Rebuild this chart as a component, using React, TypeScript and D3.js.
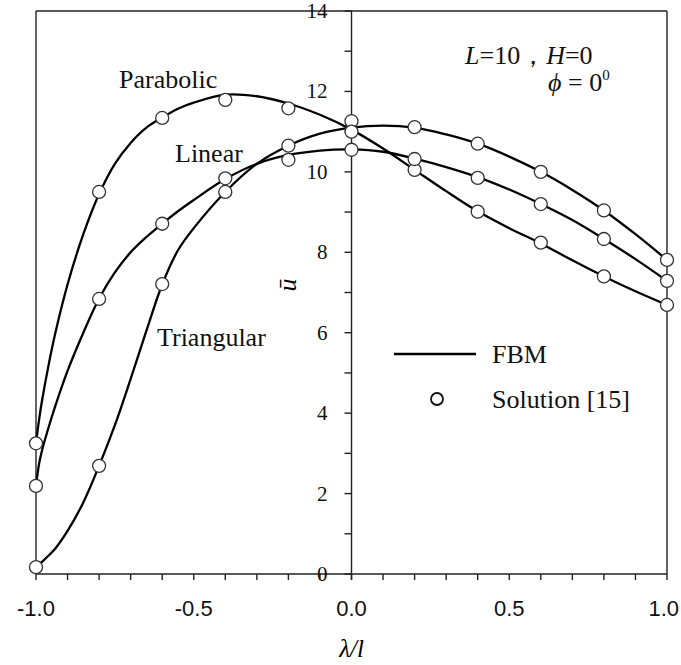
import React from 'react';
import * as d3 from 'd3';

// FBM curves, sampled along lambda/l
const fbmX = [-1, -0.99, -0.98, -0.96, -0.94, -0.9, -0.85, -0.8, -0.75, -0.7, -0.65, -0.6, -0.55, -0.5, -0.4, -0.3, -0.2, -0.1, 0, 0.1, 0.2, 0.3, 0.4, 0.5, 0.6, 0.7, 0.8, 0.9, 1.0];
const parabolicFbm = [3.25, 3.85, 4.35, 5.2, 5.95, 7.2, 8.45, 9.45, 10.2, 10.72, 11.1, 11.35, 11.57, 11.72, 11.92, 11.88, 11.7, 11.42, 11.05, 10.58, 10.05, 9.52, 9.02, 8.6, 8.22, 7.8, 7.4, 7.03, 6.69];
const linearFbm = [2.19, 2.75, 3.1, 3.65, 4.15, 5.05, 6.0, 6.85, 7.5, 8.0, 8.38, 8.71, 9.02, 9.3, 9.82, 10.2, 10.42, 10.53, 10.56, 10.5, 10.33, 10.12, 9.87, 9.56, 9.2, 8.8, 8.33, 7.83, 7.29];
const triangularFbm = [0.17, 0.24, 0.31, 0.46, 0.62, 1.07, 1.78, 2.69, 3.7, 4.85, 6.05, 7.2, 8.05, 8.6, 9.5, 10.2, 10.65, 10.95, 11.1, 11.15, 11.1, 10.93, 10.7, 10.38, 10.0, 9.55, 9.04, 8.45, 7.81];

// Solution [15] points
const solX = [-1, -0.8, -0.6, -0.4, -0.2, 0, 0.2, 0.4, 0.6, 0.8, 1.0];
const parabolicSol = [3.25, 9.5, 11.34, 11.79, 11.58, 11.26, 10.05, 9.01, 8.24, 7.4, 6.69];
const linearSol = [2.19, 6.84, 8.71, 9.84, 10.3, 10.55, 10.32, 9.85, 9.2, 8.33, 7.29];
const triangularSol = [0.17, 2.69, 7.21, 9.5, 10.65, 11.0, 11.11, 10.7, 10.0, 9.04, 7.81];

const xTickLabels = [-1.0, -0.5, 0.0, 0.5, 1.0];
const yTickLabels = [0, 2, 4, 6, 8, 10, 12, 14];

const W = 681;
const H = 665;
const serif = '"Liberation Serif", "Times New Roman", serif';
const sans = '"Liberation Sans", Arial, sans-serif';

export default function App() {
  const x = d3.scaleLinear().domain([-1, 1]).range([36, 667]);
  const y = d3.scaleLinear().domain([0, 14]).range([574, 11]);

  const line = d3.line<number>()
    .x((_, i) => x(fbmX[i]))
    .y(d => y(d))
    .curve(d3.curveCatmullRom.alpha(0.5));

  const minorX = d3.range(-10, 11).map(v => v / 10);
  const minorY = d3.range(0, 15);

  const series = [parabolicFbm, linearFbm, triangularFbm];
  const sols = [parabolicSol, linearSol, triangularSol];

  return (
    <svg width={W} height={H} style={{ position: 'absolute', left: 0, top: 0, background: '#fff' }}>
      {/* frame */}
      <g stroke="#222" strokeWidth={1.4} fill="none">
        <line x1={x(-1)} x2={x(1)} y1={y(14)} y2={y(14)} />
        <line x1={x(-1)} x2={x(-1)} y1={y(14)} y2={y(0)} />
        <line x1={x(1)} x2={x(1)} y1={y(14)} y2={y(0)} />
        <line x1={x(-1)} x2={x(1)} y1={y(0)} y2={y(0)} />
        <line x1={x(0)} x2={x(0)} y1={y(14)} y2={y(0) + 6} />
        {minorX.map(v => (
          <line key={'tx' + v} x1={x(v)} x2={x(v)} y1={y(0)} y2={y(0) + 6} />
        ))}
        {minorY.map(v => (
          <line key={'ty' + v} x1={x(0) - 7} x2={x(0)} y1={y(v)} y2={y(v)} />
        ))}
      </g>

      {/* y tick labels */}
      {yTickLabels.map(v => (
        <text key={'ly' + v} x={x(0) - 24} y={y(v) + 7} textAnchor="end"
          fontFamily={serif} fontSize={21} fill="#111">{v}</text>
      ))}

      {/* x tick labels */}
      {xTickLabels.map((v, i) => {
        const last = i === xTickLabels.length - 1;
        return (
          <text key={'lx' + v} x={last ? W - 2 : x(v)} y={616} textAnchor={last ? 'end' : 'middle'}
            fontFamily={sans} fontSize={22} fill="#111">{v.toFixed(1)}</text>
        );
      })}

      {/* curves */}
      {series.map((s, i) => (
        <path key={'c' + i} d={line(s) || ''} fill="none" stroke="#000" strokeWidth={2.3} />
      ))}

      {/* solution points */}
      {sols.map((s, i) => s.map((v, j) => (
        <circle key={'p' + i + '-' + j} cx={x(solX[j])} cy={y(v)} r={6.5}
          fill="#fff" stroke="#333" strokeWidth={1.3} />
      )))}

      {/* axis titles */}
      <text x={x(0)} y={657} textAnchor="middle" fontFamily={serif} fontStyle="italic" fontSize={25}>λ/l</text>
      <text transform={`translate(296,285) rotate(-90)`} textAnchor="middle" fontFamily={serif}
        fontStyle="italic" fontSize={26}>ū</text>

      {/* annotations */}
      <g fontFamily={serif} fontSize={26} fill="#111">
        <text x={119} y={88}>Parabolic</text>
        <text x={175} y={162}>Linear</text>
        <text x={157} y={346}>Triangular</text>
        <text x={465} y={64}>
          <tspan fontStyle="italic">L</tspan>=10，<tspan fontStyle="italic">H</tspan>=0
        </text>
        <text x={548} y={91}>
          <tspan fontStyle="italic">ϕ</tspan> = 0<tspan fontSize={15} dy={-11}>0</tspan>
        </text>
      </g>

      {/* legend */}
      <line x1={394} x2={476} y1={354} y2={354} stroke="#000" strokeWidth={2.3} />
      <text x={492} y={363} fontFamily={serif} fontSize={26} fill="#111">FBM</text>
      <circle cx={437} cy={399} r={6} fill="#fff" stroke="#111" strokeWidth={1.8} />
      <text x={492} y={408} fontFamily={serif} fontSize={26} fill="#111">Solution [15]</text>
    </svg>
  );
}
